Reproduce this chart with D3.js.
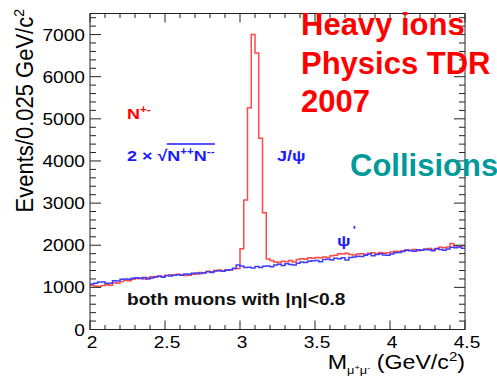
<!DOCTYPE html>
<html>
<head>
<meta charset="utf-8">
<script src="https://cdn.jsdelivr.net/npm/d3@7"></script>
<style>
  body { margin: 0; background: #fff; }
  svg { display: block; }
  text { font-family: "Liberation Sans", Arial, Helvetica, sans-serif; }
</style>
</head>
<body>
<svg id="chart" width="497" height="376"></svg>
<script>
// Dimuon invariant mass spectrum, 0.025 GeV/c^2 bins from 2.0 to 4.5 GeV/c^2
const binStart = 2.0;
const binWidth = 0.025;

const xTicks = [2, 2.5, 3, 3.5, 4, 4.5];
const xTickLabels = ["2", "2.5", "3", "3.5", "4", "4.5"];
const yTicks = [0, 1000, 2000, 3000, 4000, 5000, 6000, 7000];
const yTickLabels = ["0", "1000", "2000", "3000", "4000", "5000", "6000", "7000"];

// Opposite-sign pairs N+-
const unlikeSign = [
  1050, 1030, 1020, 1045, 1060, 1050, 1110, 1100, 1140, 1170,
  1160, 1190, 1210, 1220, 1200, 1230, 1250, 1240, 1270, 1260,
  1280, 1300, 1290, 1310, 1300, 1280, 1290, 1310, 1320, 1350,
  1340, 1380, 1370, 1400, 1410, 1390, 1420, 1410, 1440, 1450,
  1915, 3073, 5265, 7000, 6565, 4540, 2773, 1671, 1640, 1600,
  1590, 1620, 1610, 1640, 1600, 1660, 1680, 1670, 1700, 1690,
  1710, 1700, 1720, 1710, 1750, 1760, 1800, 1790, 1810, 1780,
  1770, 1790, 1800, 1780, 1810, 1820, 1800, 1830, 1810, 1820,
  1840, 1860, 1850, 1870, 1890, 1880, 1900, 1870, 1880, 1910,
  1920, 1900, 1910, 1950, 1940, 1960, 2040, 1980, 1970, 1990
];

// Like-sign background 2*sqrt(N++ N--)
const likeSign = [
  1080, 1095, 1130, 1125, 1100, 1095, 1160, 1150, 1195, 1200,
  1190, 1215, 1230, 1210, 1235, 1200, 1225, 1250, 1265, 1240,
  1280, 1270, 1290, 1300, 1285, 1320, 1310, 1335, 1340, 1330,
  1345, 1370, 1355, 1390, 1395, 1380, 1405, 1420, 1455, 1530,
  1510, 1470, 1480, 1460, 1495, 1470, 1500, 1510, 1490, 1530,
  1550, 1520, 1560, 1540, 1530, 1570, 1600, 1590, 1620, 1630,
  1640, 1610, 1660, 1670, 1650, 1690, 1680, 1700, 1650, 1710,
  1720, 1740, 1730, 1760, 1790, 1750, 1780, 1800, 1770, 1760,
  1790, 1820, 1830, 1850, 1880, 1870, 1860, 1890, 1880, 1900,
  1890, 1870, 1920, 1900, 1880, 1910, 1950, 1940, 1960, 1930
];

const svg = d3.select("#chart");
const frame = { left: 90, right: 465, top: 13.5, bottom: 329.5 };
const x = d3.scaleLinear().domain([2, 4.5]).range([frame.left, frame.right]);
const y = d3.scaleLinear().domain([0, 7500]).range([frame.bottom, frame.top]);
const sx = 1.16; // horizontal stretch of the plot lettering

// Histogram step outline
function histPoints(values) {
  const pts = values.map((v, i) => [binStart + i * binWidth, v]);
  pts.push([binStart + values.length * binWidth, values[values.length - 1]]);
  return pts;
}
const stepLine = d3.line()
  .x(d => x(d[0]))
  .y(d => y(d[1]))
  .curve(d3.curveStepAfter);

svg.append("path")
  .attr("d", stepLine(histPoints(unlikeSign)))
  .attr("fill", "none")
  .attr("stroke", "#ff4a4a")
  .attr("stroke-width", 1.5);

svg.append("path")
  .attr("d", stepLine(histPoints(likeSign)))
  .attr("fill", "none")
  .attr("stroke", "#3d3dff")
  .attr("stroke-width", 1.5);

// Frame
svg.append("rect")
  .attr("x", frame.left).attr("y", frame.top)
  .attr("width", frame.right - frame.left)
  .attr("height", frame.bottom - frame.top)
  .attr("fill", "none").attr("stroke", "#222").attr("stroke-width", 1);

// Ticks on all four sides, pointing inward
const ticksG = svg.append("g").attr("stroke", "#222").attr("stroke-width", 1);
const yMinor = d3.range(0, 7500, 200);
yMinor.forEach(v => {
  const major = v % 1000 === 0;
  const len = major ? 11 : 6;
  ticksG.append("line").attr("x1", frame.left).attr("x2", frame.left + len)
    .attr("y1", y(v)).attr("y2", y(v));
  ticksG.append("line").attr("x1", frame.right).attr("x2", frame.right - len)
    .attr("y1", y(v)).attr("y2", y(v));
});
const xMinor = d3.range(0, 26).map(i => 2 + i * 0.1);
xMinor.forEach((v, i) => {
  const major = i % 5 === 0;
  const len = major ? 9 : 4.5;
  ticksG.append("line").attr("x1", x(v)).attr("x2", x(v))
    .attr("y1", frame.bottom).attr("y2", frame.bottom - len);
  ticksG.append("line").attr("x1", x(v)).attr("x2", x(v))
    .attr("y1", frame.top).attr("y2", frame.top + len);
});

// Tick labels
yTicks.forEach((v, i) => {
  svg.append("g")
    .attr("transform", `translate(${frame.left - 5},${y(v) + 6}) scale(${sx},1)`)
    .append("text")
    .attr("text-anchor", "end")
    .attr("font-size", 16.5)
    .attr("fill", "#000")
    .text(yTickLabels[i]);
});
xTicks.forEach((v, i) => {
  svg.append("g")
    .attr("transform", `translate(${x(v) + 2},${frame.bottom + 18}) scale(${sx},1)`)
    .append("text")
    .attr("text-anchor", "middle")
    .attr("font-size", 16.5)
    .attr("fill", "#000")
    .text(xTickLabels[i]);
});

// Axis titles
const yTitle = svg.append("g")
  .attr("transform", `translate(33,9) scale(1.05,1) rotate(-90)`)
  .append("text")
  .attr("text-anchor", "end")
  .attr("font-size", 22)
  .attr("fill", "#000");
yTitle.append("tspan").text("Events/0.025 GeV/c");
yTitle.append("tspan").attr("font-size", 14).attr("dy", -9).text("2");

const xTitle = svg.append("g")
  .attr("transform", `translate(${frame.right},369) scale(${sx},1)`)
  .append("text")
  .attr("text-anchor", "end")
  .attr("font-size", 20)
  .attr("fill", "#000");
xTitle.append("tspan").text("M");
xTitle.append("tspan").attr("font-size", 11).attr("dy", 5).text("μ");
xTitle.append("tspan").attr("font-size", 8).attr("dy", -4).text("+");
xTitle.append("tspan").attr("font-size", 11).attr("dy", 4).text("μ");
xTitle.append("tspan").attr("font-size", 8).attr("dy", -4).text("-");
xTitle.append("tspan").attr("dy", -1).text(" (GeV/c");
xTitle.append("tspan").attr("font-size", 13).attr("dy", -8).text("2");
xTitle.append("tspan").attr("dy", 8).text(")");

// Annotation helper: stretched lettering anchored at (px, py)
function note(px, py) {
  return svg.append("g").attr("transform", `translate(${px},${py}) scale(${sx},1)`);
}

const nLabel = note(127, 119).append("text")
  .attr("font-size", 15.5).attr("font-weight", "bold").attr("fill", "#ff0000");
nLabel.append("tspan").text("N");
nLabel.append("tspan").attr("font-size", 10).attr("dy", -6).text("+-");

const bgG = note(127, 161);
const bgPrefix = bgG.append("text")
  .attr("font-size", 15.5).attr("font-weight", "bold").attr("fill", "#1a1aff")
  .text("2 × √");
const radX = bgPrefix.node().getComputedTextLength();
const radicand = bgG.append("text")
  .attr("x", radX)
  .attr("font-size", 15.5).attr("font-weight", "bold").attr("fill", "#1a1aff");
radicand.append("tspan").text("N");
radicand.append("tspan").attr("font-size", 10).attr("dy", -6).text("++");
radicand.append("tspan").attr("dy", 6).text("N");
radicand.append("tspan").attr("font-size", 10).attr("dy", -6).text("--");
const radW = radicand.node().getBBox().width;
bgG.append("line")
  .attr("x1", radX - 0.5).attr("x2", radX + radW)
  .attr("y1", -17).attr("y2", -17)
  .attr("stroke", "#1a1aff").attr("stroke-width", 1.4);

note(277, 161).append("text")
  .attr("font-size", 15.5).attr("font-weight", "bold").attr("fill", "#1a1aff")
  .text("J/ψ");

const psiPrime = note(337, 246).append("text")
  .attr("font-size", 15.5).attr("font-weight", "bold").attr("fill", "#1a1aff");
psiPrime.append("tspan").text("ψ");
psiPrime.append("tspan").attr("font-size", 11).attr("dx", 2).attr("dy", -12).text("'");

note(127, 305).append("text")
  .attr("font-size", 16.5).attr("font-weight", "bold").attr("fill", "#111")
  .text("both muons with |η|<0.8");

// Publication tags
const tag = svg.append("text")
  .attr("font-size", 31).attr("font-weight", "bold").attr("fill", "#ff0000");
["Heavy ions", "Physics TDR", "2007"].forEach((line, i) => {
  tag.append("tspan").attr("x", 301).attr("y", 35 + i * 38.5).text(line);
});

svg.append("text")
  .attr("x", 350).attr("y", 176)
  .attr("font-size", 31).attr("font-weight", "bold").attr("fill", "#009a9a")
  .text("Collisions");
</script>
</body>
</html>
